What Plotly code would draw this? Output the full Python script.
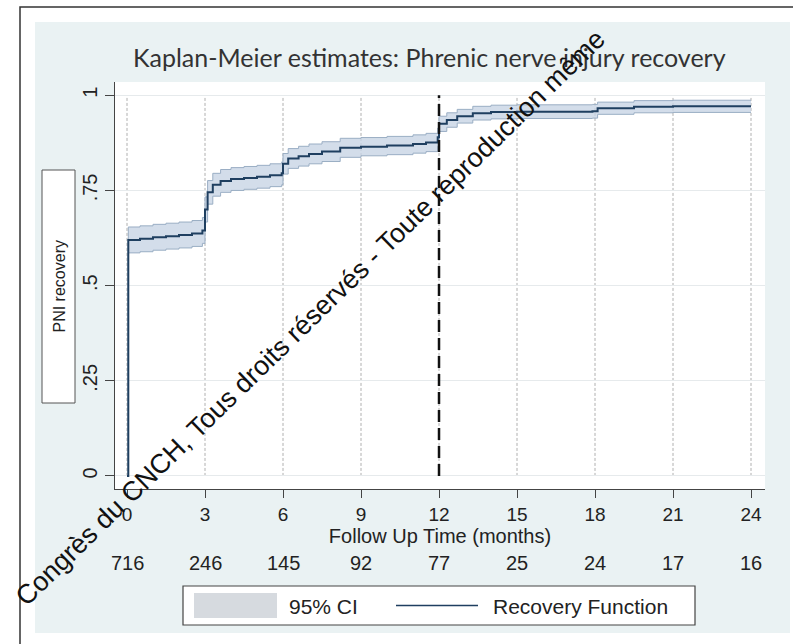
import plotly.graph_objects as go

# ---------------- data ----------------
time_months = [0, 0.05, 0.5, 1.0, 1.5, 2.0, 2.5, 2.9, 3.0, 3.1, 3.3, 3.6, 4.0, 4.5, 5.0, 5.5, 5.95,
               6.0, 6.2, 6.6, 7.0, 7.5, 8.2, 9.0, 10.0, 11.0, 11.5, 11.95, 12.0, 12.3, 12.7, 13.3,
               14.0, 15.0, 16.0, 17.9, 18.1, 19.5, 21.0, 22.0, 24.0]
recovery = [0, 0.620, 0.623, 0.627, 0.630, 0.633, 0.637, 0.645, 0.700, 0.745, 0.765, 0.775, 0.780,
            0.783, 0.786, 0.790, 0.795, 0.820, 0.834, 0.840, 0.846, 0.852, 0.862, 0.865, 0.868,
            0.872, 0.876, 0.890, 0.925, 0.935, 0.945, 0.953, 0.956, 0.957, 0.957, 0.958, 0.966,
            0.970, 0.971, 0.971, 0.971]
ci_lower = [0, 0.586, 0.589, 0.593, 0.596, 0.599, 0.603, 0.611, 0.667, 0.714, 0.735, 0.745, 0.750,
            0.753, 0.756, 0.760, 0.765, 0.793, 0.808, 0.814, 0.820, 0.826, 0.837, 0.841, 0.844,
            0.848, 0.852, 0.866, 0.905, 0.916, 0.927, 0.935, 0.938, 0.939, 0.939, 0.940, 0.950,
            0.954, 0.955, 0.955, 0.955]
ci_upper = [0, 0.654, 0.657, 0.661, 0.664, 0.667, 0.671, 0.679, 0.733, 0.776, 0.795, 0.805, 0.810,
            0.813, 0.816, 0.820, 0.825, 0.847, 0.860, 0.866, 0.872, 0.878, 0.887, 0.889, 0.892,
            0.896, 0.900, 0.914, 0.945, 0.954, 0.963, 0.971, 0.974, 0.975, 0.975, 0.976, 0.982,
            0.986, 0.987, 0.987, 0.987]

x_ticks = [0, 3, 6, 9, 12, 15, 18, 21, 24]
at_risk = [716, 246, 145, 92, 77, 25, 24, 17, 16]
y_ticks = [0, 0.25, 0.5, 0.75, 1]
y_ticktext = ["0", ".25", ".5", ".75", "1"]
cutoff_month = 12

title_text = "Kaplan-Meier estimates: Phrenic nerve injury recovery"
x_title = "Follow Up Time (months)"
y_title = "PNI recovery"
legend_ci = "95% CI"
legend_line = "Recovery Function"
watermark = "Congrès du CNCH, Tous droits réservés - Toute reproduction même"

# ---------------- layout geometry (pixels) ----------------
W, H = 793, 644
L, R, T, B = 115, 765, 82, 489
pw, ph = R - L, B - T


def px(xp):
    return (xp - L) / pw


def py(yp):
    return (B - yp) / ph


NAVY = "#1f3f60"
CI_FILL = "rgba(198,212,228,0.78)"
CI_EDGE = "#9aaec4"
BG = "#eaf2f3"
TXT = "#222222"
ARIAL = "Liberation Sans, Arial, sans-serif"

fig = go.Figure()

fig.add_trace(go.Scatter(x=time_months, y=ci_lower, mode="lines", line_shape="hv",
                         line=dict(color=CI_EDGE, width=1), showlegend=False, hoverinfo="skip"))
fig.add_trace(go.Scatter(x=time_months, y=ci_upper, mode="lines", line_shape="hv", fill="tonexty",
                         fillcolor=CI_FILL, line=dict(color=CI_EDGE, width=1), showlegend=False,
                         hoverinfo="skip"))
fig.add_trace(go.Scatter(x=time_months, y=recovery, mode="lines", line_shape="hv",
                         line=dict(color=NAVY, width=2), showlegend=False))

shapes = []
# graph region background (light blue) and white plot region
shapes.append(dict(type="rect", xref="paper", yref="paper", x0=px(35), x1=px(790), y0=py(633), y1=py(22),
                   fillcolor=BG, line=dict(width=0), layer="below"))
shapes.append(dict(type="rect", xref="paper", yref="paper", x0=0, x1=1, y0=0, y1=1,
                   fillcolor="white", line=dict(width=0), layer="below"))
# outer black frame
shapes.append(dict(type="rect", xref="paper", yref="paper", x0=px(20), x1=px(820), y0=py(670), y1=py(7),
                   fillcolor="rgba(0,0,0,0)", line=dict(color="#333333", width=1.5), layer="below"))
# vertical dashed grid lines at each tick
for t in x_ticks:
    shapes.append(dict(type="line", xref="x", yref="y", x0=t, x1=t, y0=0, y1=1,
                       line=dict(color="#9c9c9c", width=0.8, dash="3px,2px"), layer="below"))
# 12-month cutoff line
shapes.append(dict(type="line", xref="x", yref="y", x0=cutoff_month, x1=cutoff_month, y0=0, y1=1,
                   line=dict(color="#111111", width=2.5, dash="12px,6px")))
# y-title box
shapes.append(dict(type="rect", xref="paper", yref="paper", x0=px(42), x1=px(75), y0=py(403), y1=py(170),
                   fillcolor="white", line=dict(color="#555555", width=1)))
# legend box
shapes.append(dict(type="rect", xref="paper", yref="paper", x0=px(183), x1=px(695), y0=py(625), y1=py(586),
                   fillcolor="white", line=dict(color="#444444", width=1.2)))
shapes.append(dict(type="rect", xref="paper", yref="paper", x0=px(194), x1=px(277), y0=py(618), y1=py(593),
                   fillcolor="#d6dadf", line=dict(width=0)))
shapes.append(dict(type="line", xref="paper", yref="paper", x0=px(396), x1=px(478), y0=py(605.5), y1=py(605.5),
                   line=dict(color=NAVY, width=1.5)))

annotations = []
annotations.append(dict(text=title_text, xref="paper", yref="paper", x=px(429), y=py(57),
                        xanchor="center", yanchor="middle", showarrow=False,
                        font=dict(family="Lato, Open Sans, sans-serif", size=25, color="#333333")))
annotations.append(dict(text=y_title, xref="paper", yref="paper", x=px(59), y=py(286.5), textangle=-90,
                        xanchor="center", yanchor="middle", showarrow=False,
                        font=dict(family=ARIAL, size=16, color=TXT)))
for t, n in zip(x_ticks, at_risk):
    annotations.append(dict(text=str(n), xref="x", yref="paper", x=t, y=py(563),
                            xanchor="center", yanchor="middle", showarrow=False,
                            font=dict(family=ARIAL, size=20, color=TXT)))
annotations.append(dict(text=legend_ci, xref="paper", yref="paper", x=px(323), y=py(606),
                        xanchor="center", yanchor="middle", showarrow=False,
                        font=dict(family=ARIAL, size=21, color=TXT)))
annotations.append(dict(text=legend_line, xref="paper", yref="paper", x=px(580), y=py(606),
                        xanchor="center", yanchor="middle", showarrow=False,
                        font=dict(family=ARIAL, size=21, color=TXT)))
annotations.append(dict(text=watermark, xref="paper", yref="paper", x=px(310), y=py(318), textangle=-44.3,
                        xanchor="center", yanchor="middle", showarrow=False,
                        font=dict(family=ARIAL, size=27, color="#111111")))

fig.update_layout(
    width=W, height=H,
    margin=dict(l=L, r=W - R, t=T, b=H - B, pad=0),
    paper_bgcolor="white", plot_bgcolor="white",
    shapes=shapes, annotations=annotations, showlegend=False,
    xaxis=dict(range=[-0.4615, 24.538], tickmode="array", tickvals=x_ticks,
               ticks="outside", ticklen=8, tickwidth=1, tickcolor="#444444",
               showline=True, linecolor="#444444", linewidth=1.2, showgrid=False, zeroline=False,
               tickfont=dict(family=ARIAL, size=19, color=TXT),
               title=dict(text=x_title, standoff=3, font=dict(family=ARIAL, size=20, color=TXT))),
    yaxis=dict(range=[-0.0343, 1.0349], tickmode="array", tickvals=y_ticks, ticktext=y_ticktext,
               tickangle=-90, ticks="outside", ticklen=9, tickwidth=1, tickcolor="#444444",
               showline=True, linecolor="#444444", linewidth=1.2,
               showgrid=True, gridcolor="#e6eaec", gridwidth=1, zeroline=False,
               tickfont=dict(family=ARIAL, size=20, color=TXT)),
)

fig.write_html("out.html")
